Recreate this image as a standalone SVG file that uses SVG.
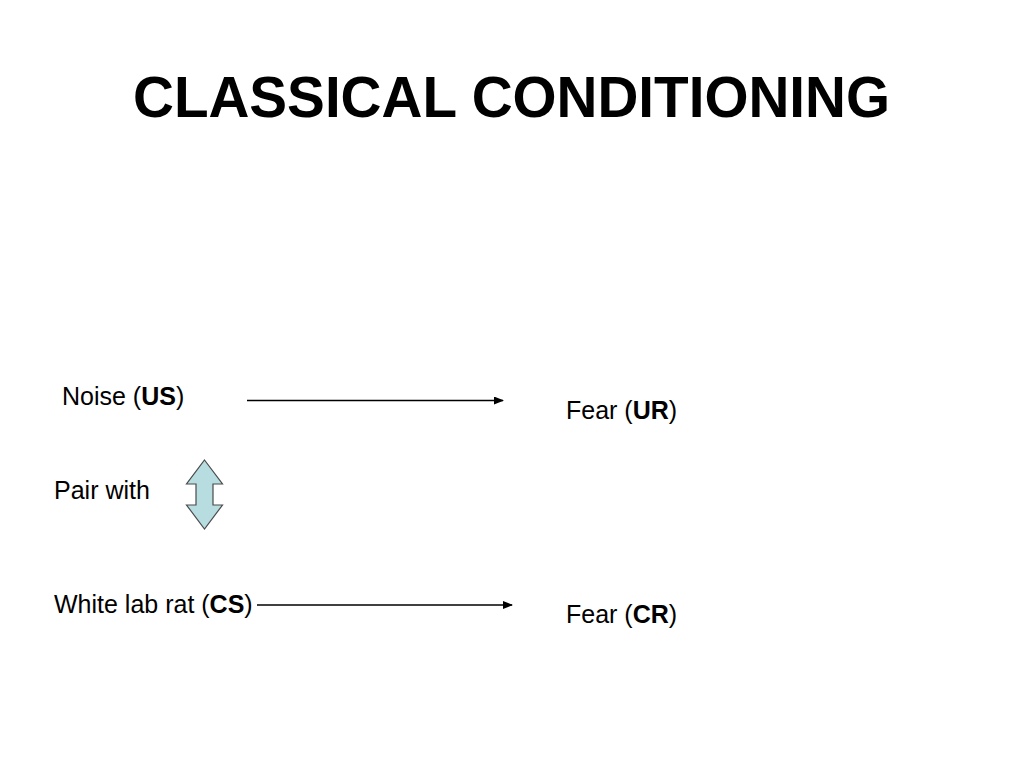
<svg xmlns="http://www.w3.org/2000/svg" width="1024" height="768" viewBox="0 0 1024 768">
<style>
text{font-family:"Liberation Sans",Arial,sans-serif;fill:#000}
.t{font-size:25px}
.b{font-weight:bold}
.c{stroke:#000;stroke-width:1.3;fill:none}
</style>
<defs>
<marker id="ah" markerWidth="10" markerHeight="8" refX="9" refY="4" orient="auto" markerUnits="userSpaceOnUse">
<path d="M0,0 L10,4 L0,8 Z" fill="#000"/>
</marker>
</defs>
<rect width="1024" height="768" fill="#fff"/>
<text id="title" x="133" y="117" font-size="58" font-weight="bold" textLength="757" lengthAdjust="spacingAndGlyphs">CLASSICAL CONDITIONING</text>
<g id="noise"><text class="t" x="62" y="405">Noise (<tspan class="b">US</tspan>)</text></g>
<g id="fearUR"><text class="t" x="566" y="419">Fear (<tspan class="b">UR</tspan>)</text></g>
<g id="pair"><text class="t" x="54" y="499">Pair with</text>
<path d="M204.5,460 L222.5,484 L213,484 L213,505 L222.5,505 L204.5,529 L186.5,505 L196,505 L196,484 L186.5,484 Z" fill="#b7dde1" stroke="#4a4a4a" stroke-width="1.2"/></g>
<g id="rat"><text class="t" x="54" y="613">White lab rat (<tspan class="b">CS</tspan>)</text></g>
<g id="fearCR"><text class="t" x="566" y="623">Fear (<tspan class="b">CR</tspan>)</text></g>
<g id="connectors">
<line class="c" x1="247" y1="400.5" x2="503" y2="400.5" marker-end="url(#ah)"/>
<line class="c" x1="257" y1="605" x2="512" y2="605" marker-end="url(#ah)"/>
</g>
</svg>
